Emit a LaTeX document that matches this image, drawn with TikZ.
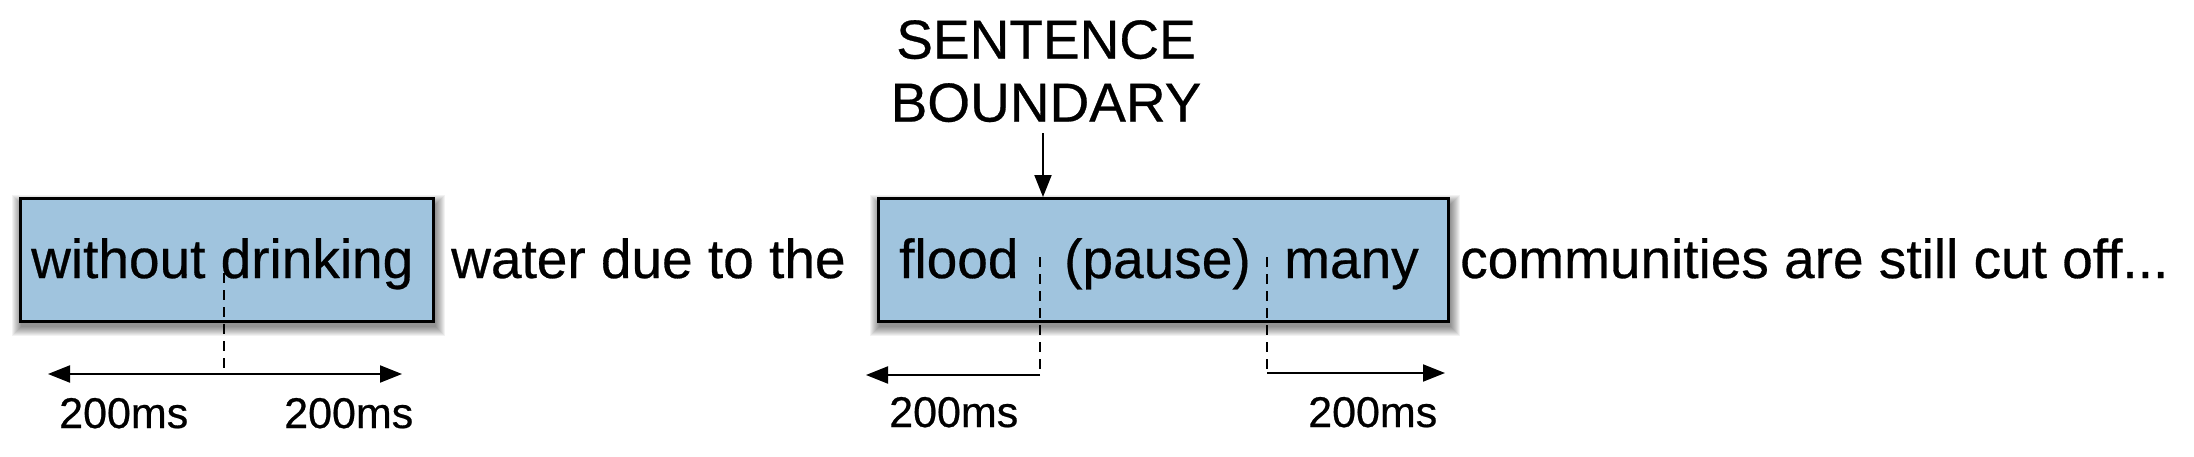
\documentclass[tikz,border=0pt]{standalone}
\usepackage{fontspec}
\setmainfont{Liberation Sans}[FakeBold=0.5]
\usetikzlibrary{arrows.meta}
\definecolor{boxblue}{RGB}{160,196,222}
\begin{document}
\begin{tikzpicture}[x=1pt,y=-1pt,
  wordbox/.style={draw=black, line width=2.5pt, fill=boxblue, inner sep=0pt, anchor=north west},
  word/.style={font=\fontsize{55}{63}\selectfont, inner sep=0pt, anchor=base west},
  mslabel/.style={font=\fontsize{43}{48}\selectfont, inner sep=0pt, anchor=base west},
  timearrow/.style={line width=2pt, -{Triangle[length=22pt,width=17pt]}},
  guide/.style={line width=2pt, dash pattern=on 10pt off 7pt},
]
% canvas
\path[use as bounding box, fill=white] (0,0) rectangle (2194,456);

% soft shadows
\foreach \i in {1,...,10} {
  \fill[black, opacity=0.05] (19+3-\i,197+8-\i) rectangle (432+3+\i,320+6+\i);
  \fill[black, opacity=0.05] (877+3-\i,197+8-\i) rectangle (1447+3+\i,320+6+\i);
}

% boxes
\node[wordbox, minimum width=413pt, minimum height=123pt] (box1) at (19,197) {};
\node[wordbox, minimum width=570pt, minimum height=123pt] (box2) at (877,197) {};

% words
\node[word] (w1) at (31,278) {without drinking};
\node[word] (w2) at (451,278) {water due to the};
\node[word] (w3) at (899,278) {flood};
\node[word] (w4) at (1064,278) {(pause)};
\node[word] (w5) at (1284,278) {many};
\node[word] (w6) at (1460,278) {communities are still cut off...};

% sentence boundary label
\node[align=center, font=\fontsize{55}{63}\selectfont, inner sep=0pt, anchor=north] (sb) at (1046,20) {SENTENCE\\BOUNDARY};
\coordinate (sbfoot) at (1043,133);
\draw[timearrow] (sbfoot) -- (sbfoot |- box2.north);

% first box timing
\coordinate (g1top) at (224,273);
\coordinate (g1) at (224,374);
\coordinate (g1l) at (48,374);
\coordinate (g1r) at (402,374);
\draw[guide] (g1top) -- (g1);
\draw[timearrow] (g1) -- (g1l);
\draw[timearrow] (g1) -- (g1r);
\node[mslabel] (ms1) at (59,428) {200ms};
\node[mslabel] (ms2) at (284,428) {200ms};

% second box timing
\coordinate (g2top) at (1040,257);
\coordinate (g2) at (1040,375);
\coordinate (g2l) at (866,375);
\draw[guide] (g2top) -- (g2);
\draw[timearrow] (g2) -- (g2l);
\coordinate (g3top) at (1267,257);
\coordinate (g3) at (1267,373);
\coordinate (g3r) at (1445,373);
\draw[guide] (g3top) -- (g3);
\draw[timearrow] (g3) -- (g3r);
\node[mslabel] (ms3) at (889,427) {200ms};
\node[mslabel] (ms4) at (1308,427) {200ms};
\end{tikzpicture}
\end{document}
